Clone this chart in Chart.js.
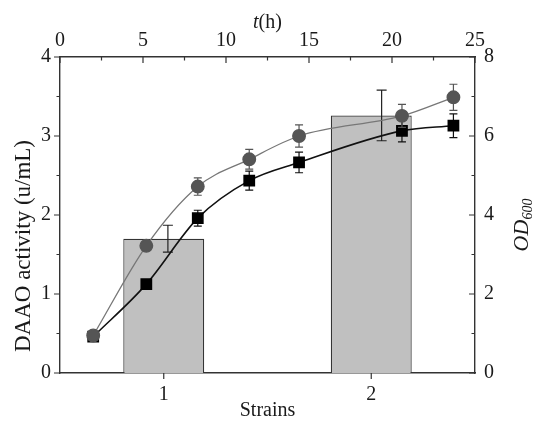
<!DOCTYPE html>
<html>
<head>
<meta charset="utf-8">
<script src="https://cdn.jsdelivr.net/npm/chart.js@4.4.1/dist/chart.umd.min.js"></script>
<style>
  html, body { margin: 0; padding: 0; background: #fff; }
</style>
</head>
<body>
<canvas id="chart" width="536" height="421"></canvas>
<script>
// bars: DAAO activity per strain (left axis, bottom axis)
const strains = ['1', '2'];
const daaoActivity = [1.70, 3.26];
const daaoError = [0.17, 0.32];
const daaoErrorAt = [1.02, 2.05]; // the whiskers sit a touch right of the bar centre in the original

// growth curves: OD600 vs time (right axis, top axis)
const timeH = [2, 5.2, 8.3, 11.4, 14.4, 20.6, 23.7];
const odCircles = [0.95, 3.22, 4.72, 5.41, 6.00, 6.51, 6.98];
const odCirclesErr = [0.05, 0.10, 0.22, 0.25, 0.28, 0.29, 0.33];
const odSquares = [0.92, 2.25, 3.92, 4.87, 5.33, 6.13, 6.26];
const odSquaresErr = [0.05, 0.08, 0.20, 0.24, 0.26, 0.28, 0.30];

const serif = "'Liberation Serif', 'Times New Roman', serif";
Chart.defaults.font.family = serif;
Chart.defaults.color = '#1a1a1a';

const toPoints = (xs, ys) => xs.map((x, i) => ({ x, y: ys[i] }));

// little helper for a whisker with caps
function whisker(ctx, x, yTop, yBot, cap, color) {
  ctx.save();
  ctx.strokeStyle = color;
  ctx.lineWidth = 1.2;
  ctx.beginPath();
  ctx.moveTo(x, yTop); ctx.lineTo(x, yBot);
  ctx.moveTo(x - cap, yTop); ctx.lineTo(x + cap, yTop);
  ctx.moveTo(x - cap, yBot); ctx.lineTo(x + cap, yBot);
  ctx.stroke();
  ctx.restore();
}

const errorBars = {
  id: 'errorBars',
  // whiskers of the curves go under their own markers
  beforeDatasetDraw(chart, args) {
    const ds = chart.data.datasets[args.index];
    if (ds.type !== 'line') return;
    const yr = chart.scales.yr;
    args.meta.data.forEach((pt, i) => {
      const v = ds.data[i].y, e = ds.errors[i];
      whisker(chart.ctx, pt.x, yr.getPixelForValue(v + e), yr.getPixelForValue(v - e), 4, ds.errColor);
    });
  },
  afterDatasetDraw(chart, args) {
    const ds = chart.data.datasets[args.index];
    if (ds.type !== 'bar') return;
    const x = chart.scales.x, y = chart.scales.y;
    ds.data.forEach((v, i) => {
      const px = x.getPixelForValue(daaoErrorAt[i] - 1);
      whisker(chart.ctx, px, y.getPixelForValue(v + daaoError[i]), y.getPixelForValue(v - daaoError[i]), 5, '#222');
    });
  }
};

// tick marks: left and bottom point out, top and right point in
const tickMarks = {
  id: 'tickMarks',
  afterDraw(chart) {
    const { ctx, chartArea: a } = chart;
    ctx.save();
    ctx.strokeStyle = '#333';
    ctx.lineWidth = 1.2;
    ctx.beginPath();
    Object.values(chart.scales).forEach(s => {
      s.ticks.forEach((t, i) => {
        const len = (s.id === 'x' || t.label !== '') ? 6 : 3.5;
        const p = s.getPixelForTick(i);
        if (s.id === 'y') { ctx.moveTo(a.left, p); ctx.lineTo(a.left - len, p); }
        if (s.id === 'yr') { ctx.moveTo(a.right, p); ctx.lineTo(a.right - len, p); }
        if (s.id === 'xt') { ctx.moveTo(p, a.top); ctx.lineTo(p, a.top + len); }
        if (s.id === 'x') { ctx.moveTo(p, a.bottom); ctx.lineTo(p, a.bottom + len); }
      });
    });
    ctx.stroke();
    ctx.restore();
  }
};

// titles with italics / subscript that the scale titles can't do
const fancyTitles = {
  id: 'fancyTitles',
  afterDraw(chart) {
    const { ctx, chartArea: a } = chart;
    ctx.save();
    ctx.fillStyle = '#1a1a1a';
    ctx.textBaseline = 'alphabetic';

    // t(h) on top
    const tPart = 't', hPart = '(h)';
    ctx.font = 'italic 20px ' + serif;
    const wt = ctx.measureText(tPart).width;
    ctx.font = '20px ' + serif;
    const wh = ctx.measureText(hPart).width;
    let x0 = (a.left + a.right) / 2 - (wt + wh) / 2;
    ctx.font = 'italic 20px ' + serif;
    ctx.fillText(tPart, x0, 28);
    ctx.font = '20px ' + serif;
    ctx.fillText(hPart, x0 + wt, 28);

    // left title
    ctx.save();
    ctx.translate(30, 246);
    ctx.rotate(-Math.PI / 2);
    ctx.font = '23px ' + serif;
    ctx.textAlign = 'center';
    ctx.fillText('DAAO activity (u/mL)', 0, 0);
    ctx.restore();

    // OD600 on the right
    ctx.save();
    ctx.translate(528, 225);
    ctx.rotate(-Math.PI / 2);
    ctx.font = 'italic 22px ' + serif;
    const wOD = ctx.measureText('OD').width;
    ctx.font = 'italic 14px ' + serif;
    const wSub = ctx.measureText('600').width;
    const sx = -(wOD + wSub) / 2;
    ctx.font = 'italic 22px ' + serif;
    ctx.fillText('OD', sx, 0);
    ctx.font = 'italic 14px ' + serif;
    ctx.fillText('600', sx + wOD, 4);
    ctx.restore();

    ctx.restore();
  }
};

const tickFont = { size: 20 };

new Chart(document.getElementById('chart'), {
  type: 'bar',
  data: {
    labels: strains,
    datasets: [
      {
        type: 'bar',
        data: daaoActivity,
        backgroundColor: '#c0c0c0',
        borderColor: '#333',
        borderWidth: 1.2,
        grouped: false,
        barPercentage: 0.39,
        categoryPercentage: 1,
        xAxisID: 'x',
        yAxisID: 'y',
        order: 3
      },
      {
        type: 'line',
        data: toPoints(timeH, odCircles),
        errors: odCirclesErr,
        errColor: '#555',
        xAxisID: 'xt',
        yAxisID: 'yr',
        borderColor: '#777',
        borderWidth: 1.3,
        pointStyle: 'circle',
        pointRadius: 6.3,
        pointBackgroundColor: '#555',
        pointBorderColor: '#555',
        cubicInterpolationMode: 'monotone',
        order: 1
      },
      {
        type: 'line',
        data: toPoints(timeH, odSquares),
        errors: odSquaresErr,
        errColor: '#111',
        xAxisID: 'xt',
        yAxisID: 'yr',
        borderColor: '#111',
        borderWidth: 1.6,
        pointStyle: 'rect',
        pointRadius: 7.2,
        pointBackgroundColor: '#000',
        pointBorderColor: '#000',
        cubicInterpolationMode: 'monotone',
        order: 2
      }
    ]
  },
  options: {
    responsive: false,
    animation: false,
    layout: { padding: 0 },
    plugins: { legend: { display: false }, tooltip: { enabled: false } },
    scales: {
      x: {
        position: 'bottom',
        offset: true,
        grid: { display: false, drawTicks: false },
        border: { display: true, color: '#333', width: 1.4 },
        ticks: { font: tickFont, padding: 10, color: '#1a1a1a' },
        title: { display: true, text: 'Strains', font: { size: 20, lineHeight: 1 }, padding: { top: 0, bottom: 0 }, color: '#1a1a1a' },
        afterFit: s => { s.height = 48; }
      },
      xt: {
        type: 'linear',
        position: 'top',
        offset: false,
        min: 0,
        max: 25,
        grid: { display: false, drawTicks: false, offset: false },
        border: { display: true, color: '#333', width: 1.4 },
        ticks: {
          stepSize: 2.5,
          autoSkip: false,
          maxRotation: 0,
          font: tickFont,
          padding: 4,
          color: '#1a1a1a',
          callback: v => (v % 5 === 0 ? String(v) : '')
        },
        afterFit: s => { s.height = 57; }
      },
      y: {
        position: 'left',
        min: 0,
        max: 4,
        grid: { display: false, drawTicks: false },
        border: { display: true, color: '#333', width: 1.4 },
        ticks: {
          stepSize: 0.5,
          autoSkip: false,
          font: tickFont,
          padding: 9,
          color: '#1a1a1a',
          callback: v => (Number.isInteger(v) ? String(v) : '')
        },
        afterFit: s => { s.width = 60; }
      },
      yr: {
        position: 'right',
        min: 0,
        max: 8,
        grid: { display: false, drawTicks: false },
        border: { display: true, color: '#333', width: 1.4 },
        ticks: {
          stepSize: 1,
          autoSkip: false,
          font: tickFont,
          padding: 9,
          color: '#1a1a1a',
          callback: v => (v % 2 === 0 ? String(v) : '')
        },
        afterFit: s => { s.width = 61; }
      }
    }
  },
  plugins: [errorBars, tickMarks, fancyTitles]
});
</script>
</body>
</html>
